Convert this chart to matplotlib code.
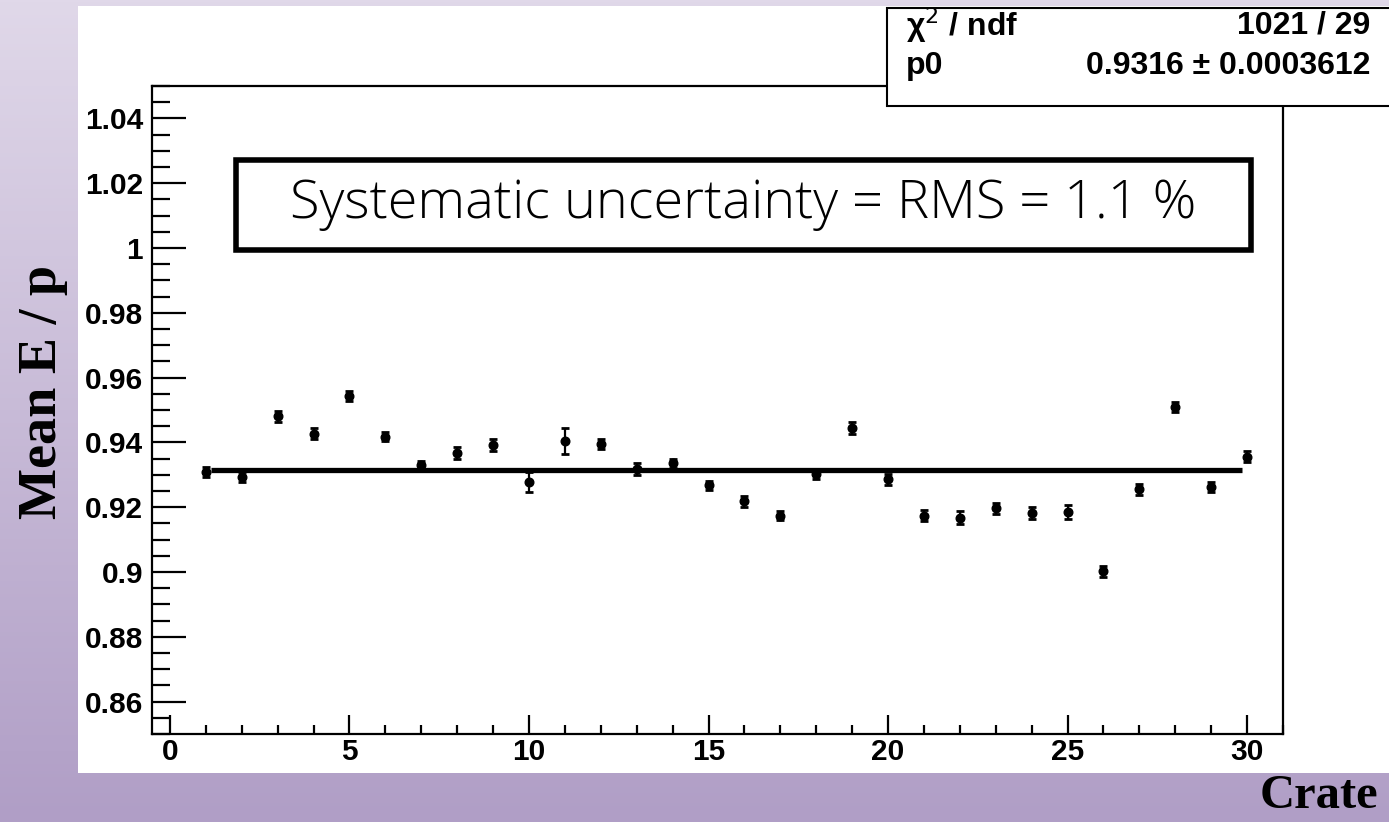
import numpy as np
import matplotlib.pyplot as plt
from matplotlib.patches import Rectangle
from matplotlib.ticker import MultipleLocator, FuncFormatter

# mean E/p per crate with statistical errors
crate = np.arange(1, 31)
mean_ep = [0.9309, 0.9293, 0.9480, 0.9427, 0.9543, 0.9418, 0.9331, 0.9367, 0.9392, 0.9279,
           0.9404, 0.9396, 0.9318, 0.9335, 0.9268, 0.9218, 0.9174, 0.9301, 0.9444, 0.9286,
           0.9174, 0.9167, 0.9196, 0.9183, 0.9186, 0.9002, 0.9255, 0.9509, 0.9262, 0.9355]
mean_ep_err = [0.0015, 0.0015, 0.0016, 0.0016, 0.0016, 0.0014, 0.0013, 0.0018, 0.0018, 0.0031,
               0.0041, 0.0015, 0.0018, 0.0015, 0.0014, 0.0016, 0.0015, 0.0013, 0.0018, 0.0016,
               0.0016, 0.0020, 0.0018, 0.0018, 0.0021, 0.0018, 0.0018, 0.0016, 0.0015, 0.0017]

# constant fit (pol0)
fit_p0 = 0.9316
fit_p0_err = 0.0003612
fit_chi2 = 1021
fit_ndf = 29
fit_range = (1.15, 29.85)
rms_pct = 1.1

W, H = 1389, 822
fig = plt.figure(figsize=(W / 100, H / 100), dpi=100)

def fx(px):
    return px / W

def fy(py):
    return 1 - py / H

# slide background: lavender gradient with a white panel
bg = fig.add_axes([0, 0, 1, 1], zorder=-10)
top = np.array([224, 216, 233]) / 255
bot = np.array([176, 158, 198]) / 255
t = np.linspace(0, 1, 256)[:, None, None]
grad = top * (1 - t) + bot * t
bg.imshow(grad, extent=(0, W, H, 0), aspect='auto')
bg.add_patch(Rectangle((78, 6), W + 10 - 78, 773 - 6, facecolor='white', edgecolor='none'))
bg.set_xlim(0, W)
bg.set_ylim(H, 0)
bg.axis('off')

ax = fig.add_axes([fx(152), fy(734), fx(1283) - fx(152), fy(86) - fy(734)])
ax.errorbar(crate, mean_ep, yerr=mean_ep_err, fmt='o', color='black', ms=6.2,
            elinewidth=1.6, capsize=3, capthick=2, zorder=3)
ax.plot(fit_range, [fit_p0, fit_p0], color='black', lw=3.8, solid_capstyle='butt', zorder=4)

ax.set_xlim(-0.5, 31)
ax.set_ylim(0.85, 1.05)
for s in ax.spines.values():
    s.set_linewidth(1.6)

ax.xaxis.set_major_locator(MultipleLocator(5))
ax.xaxis.set_minor_locator(MultipleLocator(1))
ax.yaxis.set_major_locator(MultipleLocator(0.02))
ax.yaxis.set_minor_locator(MultipleLocator(0.005))
ax.yaxis.set_major_formatter(FuncFormatter(lambda v, p: f'{round(v, 3):g}'))
ax.xaxis.set_major_formatter(FuncFormatter(lambda v, p: f'{int(round(v))}'))

ax.tick_params(axis='both', which='both', direction='in', width=1.6, top=False, right=False)
ax.tick_params(axis='y', which='major', length=24.5, pad=6.5)
ax.tick_params(axis='y', which='minor', length=13)
ax.tick_params(axis='x', which='major', length=13.7, pad=3)
ax.tick_params(axis='x', which='minor', length=6.5)
for lab in ax.get_xticklabels() + ax.get_yticklabels():
    lab.set_fontfamily('Liberation Sans')
    lab.set_fontweight('bold')
    lab.set_fontsize(21.5)

# axis titles
fig.text(fx(42.5), fy(392), 'Mean E / p', rotation=90, ha='center', va='center',
         fontfamily='Liberation Serif', fontweight='bold', fontsize=39)
fig.text(fx(1378), fy(808), 'Crate', ha='right', va='baseline',
         fontfamily='Liberation Serif', fontweight='bold', fontsize=35)

# systematic uncertainty box
fig.patches.append(Rectangle((fx(235.7), fy(250.3)), fx(1251.3) - fx(235.7), fy(159.7) - fy(250.3),
                             transform=fig.transFigure, facecolor='white', edgecolor='black',
                             lw=4, zorder=5))
fig.text(fx(743), fy(204), f'Systematic uncertainty = RMS = {rms_pct} %', ha='center', va='center',
         fontfamily='Open Sans', fontweight='light', fontsize=39, zorder=6)

# fit statistics box
fig.patches.append(Rectangle((fx(887), fy(106)), fx(W + 10) - fx(887), fy(8) - fy(106),
                             transform=fig.transFigure, facecolor='white', edgecolor='black',
                             lw=1.5, zorder=5))
stat_kw = dict(fontfamily='Liberation Sans', fontweight='bold', fontsize=23, zorder=6, va='center')
fig.text(fx(906), fy(25), 'χ$^{2}$ / ndf', ha='left', **stat_kw)
fig.text(fx(1370), fy(25), f'{fit_chi2} / {fit_ndf}', ha='right', **stat_kw)
fig.text(fx(906), fy(66), 'p0', ha='left', **stat_kw)
fig.text(fx(1370), fy(66), f'{fit_p0:.4f} ± {fit_p0_err:.7f}', ha='right', **stat_kw)

fig.savefig('out.png', dpi=100)
